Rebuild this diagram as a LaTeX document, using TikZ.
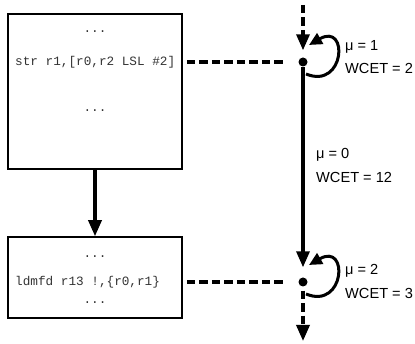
\documentclass[tikz,border=0pt]{standalone}
\usepackage{fontspec}
\setmainfont{Liberation Sans}
\newfontfamily\codefont{Liberation Mono}
\usetikzlibrary{arrows.meta}
\begin{document}
\begin{tikzpicture}[x=1pt,y=-1pt,
  codebox/.style={draw,line width=1.5pt,minimum width=174pt,inner sep=0pt},
  code/.style={font=\codefont\fontsize{12.7}{14}\selectfont,text=black!80,inner sep=0pt},
  lbl/.style={font=\fontsize{14.6}{16}\selectfont,anchor=west,inner sep=0pt},
  flow/.style={line width=3.3pt,-{Triangle[width=13pt,length=16pt]}},
  dashline/.style={line width=3.3pt,dash pattern=on 8.5pt off 4pt},
  dasharrow/.style={dashline,-{Triangle[width=13pt,length=16pt]}},
  selfloop/.style={line width=3pt,-{Triangle[width=12pt,length=13pt]}},
  point/.style={circle,fill,inner sep=0pt,minimum size=9pt}]
\useasboundingbox (0,0) rectangle (415,344);

% basic blocks with their instructions
\node[codebox,minimum height=155pt] (b1) at (95,91.5) {};
\node[codebox,minimum height=81pt] (b2) at (95,277.5) {};
\node[code] (b1top) at (95,32) {...};
\node[code,anchor=west] (b1ins) at (15,62) {str r1,[r0,r2 LSL \#2]};
\node[code] (b1bot) at (95,111) {...};
\node[code] (b2top) at (95,257) {...};
\node[code,anchor=west] (b2ins) at (15,282) {ldmfd r13 !,\{r0,r1\}};
\node[code] (b2bot) at (95,303) {...};

% timeline points
\node[point] (p1) at (303,62) {};
\node[point] (p2) at (303,282) {};
\coordinate (in) at (303,5);
\coordinate (out) at (303,341);

% control flow between the blocks
\draw[flow] (b1) -- (b2);

% instruction to point links
\draw[dashline,shorten <=4pt,shorten >=13pt] (b1ins -| b1.east) -- (p1);
\draw[dashline,shorten <=4pt,shorten >=13pt] (b2ins -| b2.east) -- (p2);

% timeline
\draw[dasharrow,shorten >=7pt] (in) -- (p1);
\draw[flow,shorten >=10pt] (p1) -- (p2);
\draw[dasharrow,shorten <=4pt] (p2) -- (out);

% self loops
\foreach \p in {p1,p2}
  \draw[selfloop] ([shift={(3,12)}]\p.center)
    .. controls ([shift={(42,28)}]\p.center) and ([shift={(46,-40)}]\p.center)
    .. ([shift={(6,-17)}]\p.center);

% annotations
\node[lbl] (m1) at (345,47) {μ = 1};
\node[lbl] (w1) at (345,68) {WCET = 2};
\node[lbl] (m0) at (316,155) {μ = 0};
\node[lbl] (w0) at (316,177) {WCET = 12};
\node[lbl] (m2) at (345,271) {μ = 2};
\node[lbl] (w2) at (345,293) {WCET = 3};
\end{tikzpicture}
\end{document}
